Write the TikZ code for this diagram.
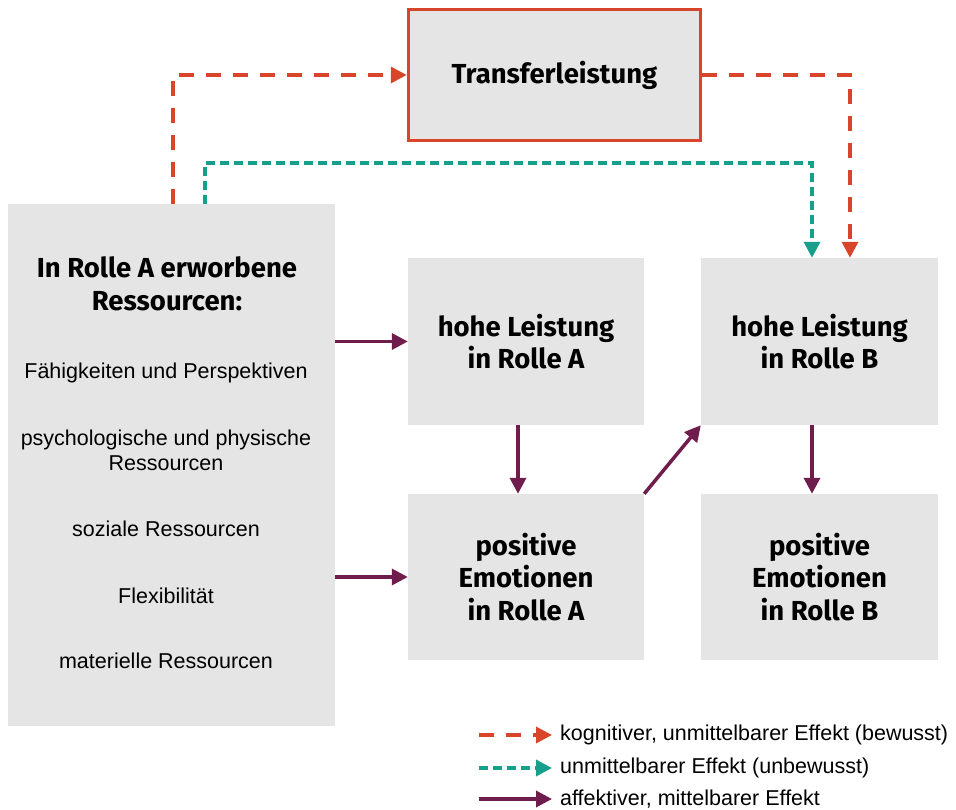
\documentclass[tikz,border=0pt]{standalone}
\usepackage{fontspec}
\setmainfont{Liberation Sans}
\newfontfamily\boxfont{Fira Sans}
\usetikzlibrary{arrows.meta}

\definecolor{kognRed}{HTML}{D8452B}
\definecolor{unbewTeal}{HTML}{16A08C}
\definecolor{affektPurple}{HTML}{6F1D4C}
\definecolor{boxGray}{HTML}{E5E5E5}

\tikzset{
  graybox/.style={fill=boxGray, inner sep=0pt, align=center,
    font=\boxfont\bfseries\fontsize{27.5}{32.5}\selectfont},
  transferbox/.style={graybox, draw=kognRed, line width=3.5pt},
  restext/.style={align=center, inner sep=0pt, font=\fontsize{21.5}{25}\selectfont},
  legtext/.style={anchor=west, inner sep=0pt, font=\fontsize{21.5}{25}\selectfont},
  kogn/.style={kognRed, line width=3.5pt, dash pattern=on 15pt off 12pt,
    -{Triangle[width=16pt,length=16pt]}},
  unbew/.style={unbewTeal, line width=3.5pt, dash pattern=on 9pt off 5pt,
    -{Triangle[width=16pt,length=16pt]}},
  affekt/.style={affektPurple, line width=3.5pt,
    -{Triangle[width=16pt,length=16pt]}}
}

\begin{document}
\begin{tikzpicture}[x=1pt, y=-1pt]
    \useasboundingbox (0,0) rectangle (956,810);

    % boxes
    \node[graybox, minimum width=327pt, minimum height=522pt] (res) at (171.5,465) {};
    \node[transferbox, minimum width=292pt, minimum height=131pt] (transfer) at (554.5,75) {Transferleistung};
    \node[graybox, minimum width=236pt, minimum height=167pt] (leistA) at (526,341.5) {hohe Leistung\\in Rolle A};
    \node[graybox, minimum width=236pt, minimum height=166pt] (emoA) at (526,577) {positive\\Emotionen\\in Rolle A};
    \node[graybox, minimum width=237pt, minimum height=167pt] (leistB) at (819.5,341.5) {hohe Leistung\\in Rolle B};
    \node[graybox, minimum width=237pt, minimum height=166pt] (emoB) at (819.5,577) {positive\\Emotionen\\in Rolle B};

    % resources
    \node[graybox, fill=none] (restitle) at (167,284) {In Rolle A erworbene\\Ressourcen:};
    \node[restext] (res1) at (166,373) {Fähigkeiten und Perspektiven};
    \node[restext] (res2) at (166,450) {psychologische und physische\\Ressourcen};
    \node[restext] (res3) at (166,529) {soziale Ressourcen};
    \node[restext] (res4) at (166,596) {Flexibilität};
    \node[restext] (res5) at (166,661) {materielle Ressourcen};

    % connectors
    \draw[kogn] ([xshift=1.5pt]res.north) |- (transfer.west);
    \draw[kogn] (transfer.east) -| ([xshift=30.5pt]leistB.north);
    \draw[unbew] ([xshift=33.5pt]res.north) -- ++(0,-41) -| ([xshift=-7.5pt]leistB.north);
    \draw[affekt] (res.east |- leistA.west) -- (leistA.west);
    \draw[affekt] (res.east |- emoA.west) -- (emoA.west);
    \draw[affekt] ([xshift=-8pt]leistA.south) -- ([xshift=-8pt]emoA.north);
    \draw[affekt] (emoA.north east) -- (leistB.south west);
    \draw[affekt] ([xshift=-7.5pt]leistB.south) -- ([xshift=-7.5pt]emoB.north);

    % legend
    \node[legtext] (leg1) at (560,735) {kognitiver, unmittelbarer Effekt (bewusst)};
    \node[legtext] (leg2) at (560,768) {unmittelbarer Effekt (unbewusst)};
    \node[legtext] (leg3) at (560,799) {affektiver, mittelbarer Effekt};
    \coordinate (k0) at (479,735);
    \coordinate (u0) at (479,768);
    \coordinate (a0) at (479,799);
    \draw[kogn] (k0) -- ([xshift=-8pt]leg1.west);
    \draw[unbew] (u0) -- ([xshift=-8pt]leg2.west);
    \draw[affekt] (a0) -- ([xshift=-8pt]leg3.west);
\end{tikzpicture}
\end{document}
